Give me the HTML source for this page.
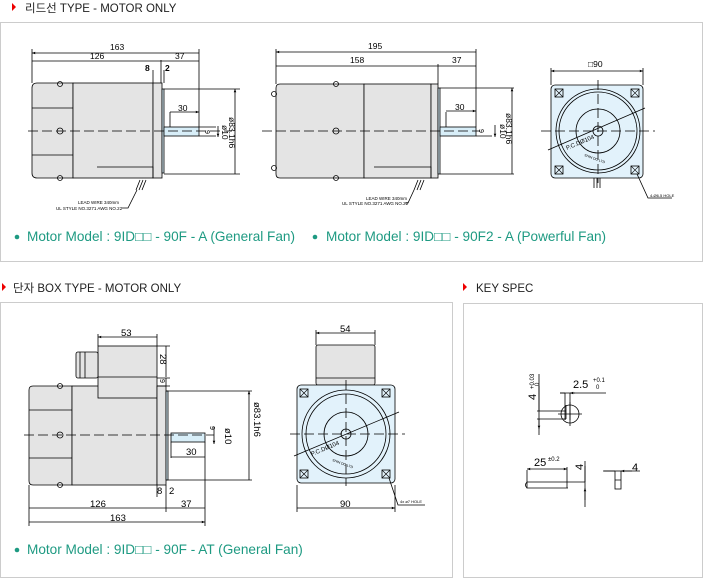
<!DOCTYPE html>
<html><head><meta charset="utf-8"><style>
body{margin:0;background:#fff;width:703px;height:578px;overflow:hidden;font-family:"Liberation Sans","Noto Sans CJK KR",sans-serif}
svg{position:absolute;left:0;top:0}
</style></head><body>
<svg width="703" height="578" viewBox="0 0 703 578" xmlns="http://www.w3.org/2000/svg" font-family="Liberation Sans, Noto Sans CJK KR, sans-serif">
<defs>
<marker id="a" viewBox="0 0 10 10" refX="10" refY="5" markerWidth="5" markerHeight="4" orient="auto-start-reverse"><path d="M0,1 L10,5 L0,9z" fill="#000"/></marker>
<g id="hole"><rect x="-4" y="-4" width="8" height="8" fill="none" stroke="#000" stroke-width=".8"/><path d="M-4,-4L4,4M4,-4L-4,4" stroke="#000" stroke-width=".6"/></g>
</defs>
<!-- headers -->
<path d="M12,3 L16,7 L12,11z" fill="#e00"/>
<text x="25" y="12" font-size="11.5" fill="#222">리드선 TYPE - MOTOR ONLY</text>
<path d="M2,283 L6,287 L2,291z" fill="#e00"/>
<text x="13" y="292" font-size="11.5" fill="#222">단자 BOX TYPE - MOTOR ONLY</text>
<path d="M463,283 L467,287 L463,291z" fill="#e00"/>
<text x="476" y="292" font-size="11.5" fill="#222">KEY SPEC</text>
<!-- panels -->
<rect x="0.5" y="22.5" width="702" height="239" fill="none" stroke="#ccc"/>
<rect x="0.5" y="302.5" width="452" height="275" fill="none" stroke="#ccc"/>
<rect x="463.5" y="303.5" width="239" height="274" fill="none" stroke="#ccc"/>
<!-- legends -->
<g font-size="13.6" fill="#1e9a82">
<circle cx="17" cy="237" r="2.3"/><text x="27" y="241">Motor Model : 9ID□□ - 90F - A (General Fan)</text>
<circle cx="315" cy="237" r="2.3"/><text x="326" y="241">Motor Model : 9ID□□ - 90F2 - A (Powerful Fan)</text>
<circle cx="17" cy="550" r="2.3"/><text x="27" y="554">Motor Model : 9ID□□ - 90F - AT (General Fan)</text>
</g>
<g stroke="#000" stroke-width=".8" fill="none" font-size="8.5">
<!-- motor 1 -->
<path d="M37,83 H73 V178 H37 Q32,178 32,173 V88 Q32,83 37,83z" fill="#e4e4e4"/>
<rect x="73" y="83" width="80" height="95" fill="#e4e4e4"/>
<rect x="153" y="83" width="9" height="95" fill="#e4e4e4"/>
<rect x="162" y="89" width="2" height="84" fill="#d8eef8"/>
<rect x="164" y="127" width="35" height="9" fill="#d8eef8"/>
<path d="M32,108H73M32,155H73M97,167H153V178"/>
<circle cx="60" cy="131" r="3"/><circle cx="60" cy="84" r="2.5"/><circle cx="60" cy="178" r="2.5"/>
<path d="M28,131H232" stroke-dasharray="10,4"/>
<path d="M32,49V83M199,49V127M161,60V83M153,70V83M164,70V83M164,89H240M164,174H240M170,112V127M199,127H216M199,136H216"/>
<path d="M32,53H199M32,61H161M161,61H199M170,112H199" marker-start="url(#a)" marker-end="url(#a)"/>
<path d="M235,89V174M218,126V137" marker-start="url(#a)" marker-end="url(#a)"/>
<g fill="#000" stroke="none"><text x="110" y="50">163</text><text x="90" y="59">126</text><text x="175" y="59">37</text><text x="145" y="71" font-weight="bold">8</text><text x="165" y="71" font-weight="bold">2</text><text x="178" y="111">30</text>
<text transform="translate(205,130) rotate(90)" font-size="7">9</text>
<text transform="translate(222,125) rotate(90)">ø10</text><text transform="translate(229,117) rotate(90)">ø83.1h6</text>
<text x="78" y="204" font-size="4.5">LEAD WIRE 340mm</text><text x="56" y="210" font-size="4.5">UL STYLE NO.3271 AWG NO.22</text></g>
<path d="M137,190 L128,208 H122"/><path d="M140,180 l-4,10 M143,180 l-4,10 M146,180 l-4,10"/>
<!-- motor 2 -->
<path d="M280,84 H364 V178 H280 Q276,178 276,174 V88 Q276,84 280,84z" fill="#e4e4e4"/>
<rect x="364" y="84" width="67" height="94" fill="#e4e4e4"/>
<rect x="431" y="84" width="7" height="94" fill="#e4e4e4"/>
<rect x="438" y="88" width="2" height="86" fill="#d8eef8"/>
<rect x="440" y="127" width="36" height="9" fill="#d8eef8"/>
<path d="M374,167H431V178"/>
<circle cx="336" cy="131" r="3"/><circle cx="336" cy="84" r="2.5"/><circle cx="336" cy="178" r="2.5"/><circle cx="274" cy="94" r="2.5"/><circle cx="274" cy="168" r="2.5"/>
<path d="M262,131H480" stroke-dasharray="10,4"/>
<path d="M276,49V84M476,49V127M438,64V84M440,88H514M440,174H514M446,112V127M476,136H492"/>
<path d="M276,52H476M276,66H438M438,66H476M446,111H476" marker-start="url(#a)" marker-end="url(#a)"/>
<path d="M512,88V174M495,125V137" marker-start="url(#a)" marker-end="url(#a)"/>
<g fill="#000" stroke="none"><text x="368" y="49">195</text><text x="350" y="63">158</text><text x="452" y="63">37</text><text x="455" y="110">30</text>
<text transform="translate(479,129) rotate(90)" font-size="7">9</text>
<text transform="translate(500,124) rotate(90)">ø10</text><text transform="translate(506,113) rotate(90)">ø83.1h6</text>
<text x="366" y="200" font-size="4.5">LEAD WIRE 340mm</text><text x="342" y="205" font-size="4.5">UL STYLE NO.3271 AWG NO.22</text></g>
<path d="M414,190 L408,203 H405"/><path d="M418,180 l-4,10 M421,180 l-4,10 M424,180 l-4,10"/>
<!-- front 1 -->
<rect x="551" y="85" width="92" height="93" rx="4" fill="#e2f2fb"/>
<circle cx="598" cy="131" r="42"/><circle cx="598" cy="131" r="39"/><circle cx="598" cy="131" r="22"/><circle cx="598" cy="131" r="5"/>
<use href="#hole" x="559" y="93"/><use href="#hole" x="635" y="93"/><use href="#hole" x="559" y="170"/><use href="#hole" x="635" y="170"/>
<path d="M541,131H655M598,80V183" stroke-dasharray="10,4"/>
<path d="M548,150L645,108"/>
<path d="M551,68V85M643,68V85"/><path d="M551,71H643" marker-start="url(#a)" marker-end="url(#a)"/>
<path d="M594,178v10M597,178v10M600,178v10"/>
<path d="M637,174 L648,198 H672"/>
<g fill="#000" stroke="none"><text x="588" y="67">□90</text><text x="650" y="197" font-size="4">4-Ø6.5 HOLE</text>
<text transform="translate(567,150) rotate(-23)" font-size="6">P.C.DØ104</text><text transform="translate(584,156) rotate(20)" font-size="3.5">SHIN DO LTD</text></g>
<!-- bottom motor -->
<path d="M33,386 H72 V485 H33 Q29,485 29,481 V390 Q29,386 33,386z" fill="#e4e4e4"/>
<rect x="72" y="386" width="85" height="99" fill="#e4e4e4"/>
<rect x="98" y="346" width="59" height="52" fill="#e4e4e4"/>
<rect x="76" y="352" width="22" height="26" rx="2" fill="#e4e4e4"/>
<path d="M80,352V378M85,352V378M98,377H157"/>
<rect x="157" y="386" width="9" height="99" fill="#e4e4e4"/>
<rect x="166" y="391" width="2" height="89" fill="#d8eef8"/>
<rect x="171" y="433" width="34" height="9" fill="#d8eef8"/>
<path d="M29,410H72M29,458H72"/>
<circle cx="60" cy="435" r="3"/><circle cx="60" cy="386" r="2.5"/><circle cx="60" cy="485" r="2.5"/>
<path d="M24,435H214" stroke-dasharray="10,4"/>
<path d="M98,334V346M157,334V346M157,346H170M157,378H170M157,386H170M166,391H252M166,480H252M171,442V458M205,442V526M29,485V526M166,485V512M157,485V497"/>
<path d="M98,337H157M166,346V377M166,378V386M171,457H205M29,508H166M166,508H205M29,522H205" marker-start="url(#a)" marker-end="url(#a)"/>
<path d="M249,391V480M214,427V444" marker-start="url(#a)" marker-end="url(#a)"/>
<g fill="#000" stroke="none" font-size="9.5"><text x="121" y="336">53</text><text transform="translate(160,354) rotate(90)">28</text><text transform="translate(160,379) rotate(90)" font-size="7">9</text>
<text x="186" y="455">30</text><text x="157" y="494">8</text><text x="169" y="494">2</text>
<text x="90" y="507">126</text><text x="181" y="507">37</text><text x="110" y="521">163</text>
<text transform="translate(210,426) rotate(90)" font-size="7">9</text>
<text transform="translate(225,428) rotate(90)">ø10</text><text transform="translate(254,402) rotate(90)">ø83.1h6</text></g>
<!-- front 2 -->
<rect x="316" y="345" width="59" height="40" rx="2" fill="#e4e4e4"/><path d="M316,378H375"/>
<rect x="297" y="385" width="98" height="98" rx="4" fill="#e2f2fb"/>
<circle cx="346" cy="434" r="44"/><circle cx="346" cy="434" r="40"/><circle cx="346" cy="434" r="22"/><circle cx="346" cy="434" r="5"/>
<use href="#hole" x="304" y="393"/><use href="#hole" x="386" y="393"/><use href="#hole" x="304" y="474"/><use href="#hole" x="386" y="474"/>
<path d="M290,434H405M346,380V486" stroke-dasharray="10,4"/>
<path d="M294,456L399,412"/>
<path d="M316,330V345M375,330V345M297,485V512M395,485V512"/>
<path d="M316,333H375M297,508H395" marker-start="url(#a)" marker-end="url(#a)"/>
<path d="M389,478 L398,505 H425"/>
<g fill="#000" stroke="none"><text x="340" y="332" font-size="9.5">54</text><text x="340" y="507" font-size="9.5">90</text><text x="400" y="503" font-size="4">4x ø7 HOLE</text>
<text transform="translate(312,456) rotate(-23)" font-size="6">P.C.DØ104</text><text transform="translate(332,461) rotate(20)" font-size="3.5">SHIN DO LTD</text></g>
<!-- key spec -->
<path d="M539,374V435M537,411H566M537,419H566M566,405V419M560,393H606M565,393V420M570,393V420"/>
<path d="M539,386V411M539,419V429" marker-end="url(#a)"/>
<circle cx="570" cy="414" r="9"/><path d="M558,414H582M570,402V426"/>
<path d="M560,393H565M575,393H570" marker-end="url(#a)"/>
<path d="M527,470V488H568M527,482H585M567,467V488M585,461V507"/>
<path d="M527,488 Q524,485 527,482"/>
<path d="M527,469H567" marker-start="url(#a)" marker-end="url(#a)"/>
<path d="M585,466V482M585,500V488" marker-end="url(#a)"/>
<rect x="615" y="471" width="6" height="18"/><path d="M615,480H621M603,471H615M621,471H640"/>
<path d="M604,471H615M632,471H621" marker-end="url(#a)"/>
<g fill="#000" stroke="none" font-size="11"><text transform="translate(536,400) rotate(-90)">4</text><text transform="translate(534,389) rotate(-90)" font-size="6">+0.03</text><text transform="translate(539,386) rotate(-90)" font-size="6">0</text>
<text x="573" y="388">2.5</text><text x="593" y="382" font-size="6">+0.1</text><text x="596" y="389" font-size="6">0</text>
<text x="534" y="466">25</text><text x="548" y="461" font-size="6">±0.2</text>
<text transform="translate(583,470) rotate(-90)">4</text><text x="632" y="471">4</text></g>
</g>
</svg>
</body></html>
